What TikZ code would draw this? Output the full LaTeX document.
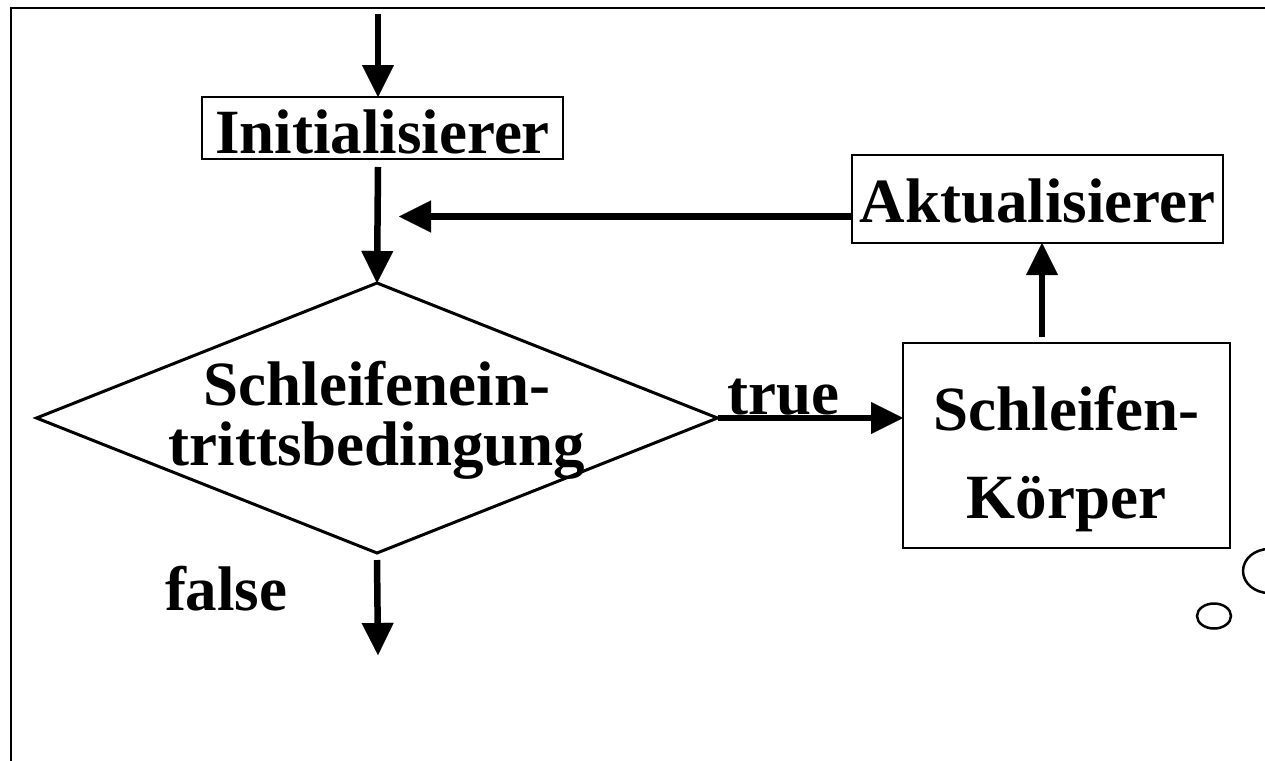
\documentclass[tikz,border=0pt]{standalone}
\usepackage{fontspec}
\setmainfont{Liberation Serif}
\usetikzlibrary{arrows.meta,shapes.geometric}
\begin{document}
\begin{tikzpicture}[x=1pt,y=-1pt,
  txt/.style={font=\fontsize{63}{88}\bfseries\selectfont, inner sep=0pt, outer sep=0pt},
  box/.style={draw, line width=2.3pt, inner sep=0pt, outer sep=0pt,
              font=\fontsize{63}{88}\bfseries\selectfont},
  cnd/.style={draw, diamond, line width=3pt, inner sep=0pt, outer sep=0pt, aspect=2.5},
  arr/.style={line width=6.5pt,
              -{Triangle[length=32pt,width=32pt,line width=0.1pt]}},
  bubble/.style={draw, line width=2.5pt}]
  % page area
  \clip (0,0) rectangle (1265,760);
  % outer frame (runs off the right and bottom edges)
  \draw[line width=2.6pt] (11,780) -- (11,8) -- (1290,8);

  % flow chart nodes
  \node[box, minimum width=361pt, minimum height=62pt,
        text height=51pt, text depth=0pt] (init) at (382.5,128) {Initialisierer};
  \node[box, minimum width=371pt, minimum height=88pt,
        text height=47pt, text depth=0pt] (akt) at (1037.5,199) {Aktualisierer};
  \node[cnd, minimum width=681pt, minimum height=270pt] (cond) at (377,418) {};
  \node[txt, align=center, font=\fontsize{63}{60}\bfseries\selectfont, yshift=-2.5pt]
        (condtext) at (cond.center) {Schleifenein-\\trittsbedingung};
  \node[box, minimum width=327pt, minimum height=205pt] (body) at (1066.5,445.5) {};
  \node[txt, align=center, yshift=-13.5pt] (bodytext) at (body.center)
        {Schleifen-\\Körper};

  % free ends of the flow
  \coordinate (entry) at (378,14);
  \coordinate (merge) at (399,216.5);
  \coordinate (exit)  at (378,655);

  % connectors
  \draw[arr] (entry) -- (entry |- init.north);
  \draw[arr] ([yshift=-8pt]entry |- init.south) -- (cond.north);
  \draw[arr] (akt.west |- merge) -- (merge);
  \draw[arr] (cond.east) -- node[txt, pos=0, anchor=base west, xshift=10pt, yshift=4pt]
        (truelbl) {true} (body.west |- cond.east);
  \draw[arr] ([xshift=-24.5pt,yshift=6pt]body.north)
        -- ([xshift=-24.5pt]body.north |- akt.south);
  \draw[arr] ([yshift=-7pt]cond.south) -- (exit);
  \node[txt, anchor=base west] (falselbl) at (165,610) {false};

  % thought bubbles at the right edge
  \draw[bubble] (1214,616) ellipse [x radius=17pt, y radius=12.5pt];
  \draw[bubble] (1269,571) ellipse [x radius=26pt, y radius=22pt];
\end{tikzpicture}
\end{document}
